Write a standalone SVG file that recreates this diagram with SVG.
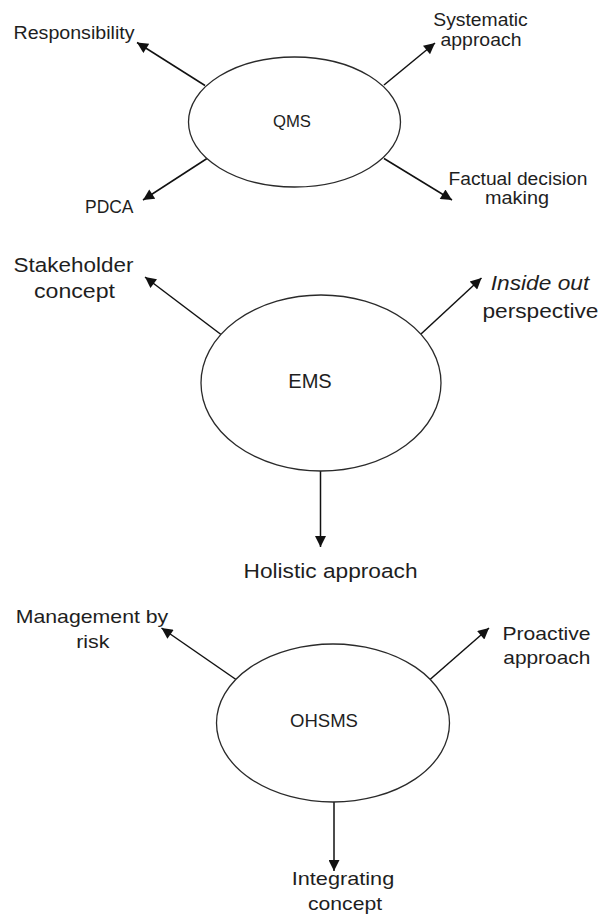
<svg xmlns="http://www.w3.org/2000/svg" width="603" height="916" viewBox="0 0 603 916">
<style>
text{font-family:"Liberation Sans",Arial,sans-serif;fill:#1e1e1e}
.c{text-anchor:middle}
.s1{font-size:17.5px}
.s2{font-size:20.5px}
.s3{font-size:19px}
ellipse{fill:#fff;stroke:#2a2a2a;stroke-width:1.3}
.conn line{stroke:#111;stroke-width:1.5;marker-end:url(#ah)}
</style>
<defs>
<marker id="ah" viewBox="0 0 10 10" refX="10" refY="5" markerWidth="13" markerHeight="11" markerUnits="userSpaceOnUse" orient="auto">
<path d="M0,0 L10,5 L0,10 z" fill="#111"/>
</marker>
</defs>
<rect width="603" height="916" fill="#fff"/>
<g id="connectors" class="conn">
<line x1="205" y1="85.5" x2="137" y2="42.5"/>
<line x1="384" y1="85" x2="435" y2="43"/>
<line x1="207" y1="158.5" x2="143" y2="200"/>
<line x1="384" y1="158.5" x2="452" y2="200"/>
<line x1="221" y1="334.5" x2="145" y2="277"/>
<line x1="421" y1="334" x2="481.5" y2="278"/>
<line x1="320.5" y1="470.5" x2="320.5" y2="547"/>
<line x1="236" y1="679.5" x2="161.5" y2="628"/>
<line x1="430" y1="679.5" x2="489" y2="628"/>
<line x1="334" y1="801.5" x2="334" y2="871"/>
</g>
<g id="qms">
<ellipse cx="294.5" cy="122" rx="106" ry="65"/>
<text class="c" x="292" y="126.5" font-size="16" textLength="38" lengthAdjust="spacingAndGlyphs">QMS</text>
</g>
<g id="responsibility"><text class="s1" x="13.5" y="39" textLength="121" lengthAdjust="spacingAndGlyphs">Responsibility</text></g>
<g id="systematic"><text class="c s1" x="480.5" y="26" textLength="94.5" lengthAdjust="spacingAndGlyphs">Systematic</text><text class="c s1" x="481" y="46" textLength="81" lengthAdjust="spacingAndGlyphs">approach</text></g>
<g id="factual"><text class="c s1" x="518" y="185" textLength="139" lengthAdjust="spacingAndGlyphs">Factual decision</text><text class="c s1" x="517" y="204" textLength="64" lengthAdjust="spacingAndGlyphs">making</text></g>
<g id="pdca"><text class="s1" x="85" y="213" textLength="48.5" lengthAdjust="spacingAndGlyphs">PDCA</text></g>
<g id="ems">
<ellipse cx="321" cy="383" rx="120" ry="88"/>
<text class="c" x="310" y="387.5" font-size="20" textLength="43.5" lengthAdjust="spacingAndGlyphs">EMS</text>
</g>
<g id="stakeholder"><text class="c s2" x="73.5" y="272" textLength="120" lengthAdjust="spacingAndGlyphs">Stakeholder</text><text class="c s2" x="74.5" y="298" textLength="81" lengthAdjust="spacingAndGlyphs">concept</text></g>
<g id="insideout"><text class="c s2" x="540" y="290" font-style="italic" textLength="98.5" lengthAdjust="spacingAndGlyphs">Inside out</text><text class="c s2" x="540.5" y="318" textLength="116" lengthAdjust="spacingAndGlyphs">perspective</text></g>
<g id="holistic"><text class="c s2" x="330.5" y="578" textLength="174" lengthAdjust="spacingAndGlyphs">Holistic approach</text></g>
<g id="ohsms">
<ellipse cx="333" cy="723" rx="116.5" ry="79"/>
<text class="c" x="324" y="727" font-size="19" textLength="68" lengthAdjust="spacingAndGlyphs">OHSMS</text>
</g>
<g id="risk"><text class="c s3" x="92" y="623" textLength="152.5" lengthAdjust="spacingAndGlyphs">Management by</text><text class="c s3" x="92.8" y="648" textLength="33.3" lengthAdjust="spacingAndGlyphs">risk</text></g>
<g id="proactive"><text class="c s3" x="546.5" y="640" textLength="88" lengthAdjust="spacingAndGlyphs">Proactive</text><text class="c s3" x="546.8" y="664" textLength="87" lengthAdjust="spacingAndGlyphs">approach</text></g>
<g id="integrating"><text class="c s3" x="343" y="885" textLength="102.5" lengthAdjust="spacingAndGlyphs">Integrating</text><text class="c s3" x="345" y="910" textLength="74" lengthAdjust="spacingAndGlyphs">concept</text></g>
</svg>
